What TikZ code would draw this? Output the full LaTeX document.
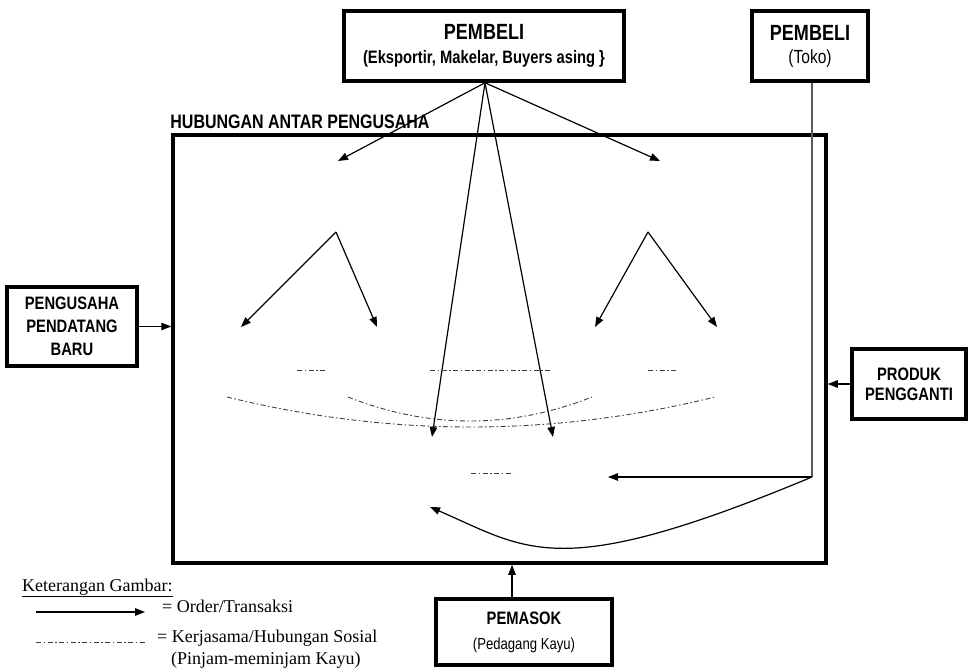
\documentclass[tikz,border=0pt]{standalone}
\usepackage{fontspec}
\setmainfont{Liberation Serif}
\newfontfamily\narrowsans[FakeStretch=0.82]{Liberation Sans}
\usetikzlibrary{arrows.meta}

\begin{document}
\begin{tikzpicture}[x=1pt, y=-1pt, >={Triangle[length=10pt,width=7.5pt]}]
   \useasboundingbox (0,0) rectangle (969,668);
   \tikzstyle{box}=[draw, line width=3.5pt, inner sep=0pt, align=center, font=\narrowsans\bfseries]
   \tikzstyle{order}=[->, line width=1.2pt]
   \tikzstyle{sosial}=[line width=0.9pt, black!75, dash pattern=on 5pt off 2.5pt on 1.5pt off 2.5pt]
   % pelaku di luar lingkungan pengusaha
   \node[box, minimum width=280, minimum height=70, font=\narrowsans\bfseries\fontsize{18}{24}\selectfont] (pembeliEks) at (484,46)
      {{\fontsize{22}{24}\selectfont PEMBELI}\\(Eksportir, Makelar, Buyers asing \}};
   \node[box, minimum width=116, minimum height=70, font=\narrowsans\fontsize{19}{23}\selectfont] (pembeliToko) at (810,46)
      {{\bfseries\fontsize{22}{23}\selectfont PEMBELI}\\(Toko)};
   \node[box, minimum width=130, minimum height=79, font=\narrowsans\bfseries\fontsize{18}{23}\selectfont] (pendatang) at (72,326.5)
      {PENGUSAHA\\PENDATANG\\BARU};
   \node[box, minimum width=114, minimum height=70, font=\narrowsans\bfseries\fontsize{18}{20}\selectfont] (pengganti) at (909,384)
      {PRODUK\\PENGGANTI};
   \node[box, minimum width=176, minimum height=66, font=\narrowsans\fontsize{16}{25}\selectfont] (pemasok) at (524,632)
      {{\bfseries\fontsize{18}{25}\selectfont PEMASOK}\\(Pedagang Kayu)};
   % lingkungan antar pengusaha
   \node[draw, line width=3.5pt, minimum width=653, minimum height=428, inner sep=0pt] (frame) at (499.5,349) {};
   \node[anchor=base west, inner sep=0pt, font=\narrowsans\bfseries\fontsize{19.5}{22}\selectfont] (hubLabel)
      at ([xshift=-1pt, yshift=5pt]frame.north west) {HUBUNGAN ANTAR PENGUSAHA};
   \draw[order] (pendatang.east) -- (pendatang.east -| frame.west);
   \draw[order] (pengganti.west) -- (pengganti.west -| frame.east);
   \draw[order] ([xshift=-12pt]pemasok.north) -- ([xshift=-12pt]pemasok.north |- frame.south);
   % order dari pembeli eksportir
   \coordinate (eksOut) at ([xshift=1pt]pembeliEks.south);
   \coordinate (eksL) at (338,161);
   \coordinate (eksR) at (660,161);
   \coordinate (eksC1) at (432,437);
   \coordinate (eksC2) at (553,437);
   \foreach \tip in {eksL,eksR,eksC1,eksC2} {
        \draw[order] (eksOut) -- (\tip);
   }
   % order antar pengusaha
   \foreach \apex/\l/\r in {336/241/377, 648/595/717} {
        \coordinate (apex\apex) at (\apex,232);
        \draw[order] (apex\apex) -- (\l,327);
        \draw[order] (apex\apex) -- (\r,327);
   }
   % hubungan sosial
   \foreach \a/\b in {297/326, 430/552, 648/677} {
        \draw[sosial] (\a,370) -- (\b,370);
   }
   \draw[sosial] (471,473) -- (513,473);
   \coordinate (sosL1) at (227,397);
   \coordinate (sosR1) at (715,397);
   \coordinate (sosL2) at (348,397);
   \coordinate (sosR2) at (592,397);
   \draw[sosial] (sosL1) .. controls (390,437) and (552,437) .. (sosR1);
   \draw[sosial] (sosL2) .. controls (429,429) and (511,429) .. (sosR2);
   % order dari toko
   \coordinate (tokoTurn) at (812,477);
   \coordinate (tokoTip) at (608,477);
   \coordinate (tokoCurve) at (430,507);
   \draw[line width=1.2pt, black!65] ([xshift=2pt]pembeliToko.south) -- (tokoTurn);
   \draw[order] (tokoTurn) -- (tokoTip);
   \draw[order] (tokoTurn) .. controls (558,583) and (529,550) .. (tokoCurve);
   % keterangan
   \node[anchor=base west, inner sep=0pt, font=\fontsize{18}{22}\selectfont] (ket) at (22,591) {\underline{Keterangan Gambar:}};
   \coordinate (orderA) at (36,612);
   \coordinate (orderB) at (145,612);
   \draw[order] (orderA) -- (orderB);
   \node[anchor=base west, inner sep=0pt, font=\fontsize{18}{22}\selectfont] (orderText) at (162,612) {= Order/Transaksi};
   \coordinate (sosA) at (36,642);
   \coordinate (sosB) at (145,642);
   \draw[sosial] (sosA) -- (sosB);
   \node[anchor=base west, inner sep=0pt, font=\fontsize{18}{22}\selectfont] (sosText) at (157,642) {= Kerjasama/Hubungan Sosial};
   \node[anchor=base west, inner sep=0pt, font=\fontsize{18}{22}\selectfont] (sosText2) at (171,664) {(Pinjam-meminjam Kayu)};
\end{tikzpicture}
\end{document}
